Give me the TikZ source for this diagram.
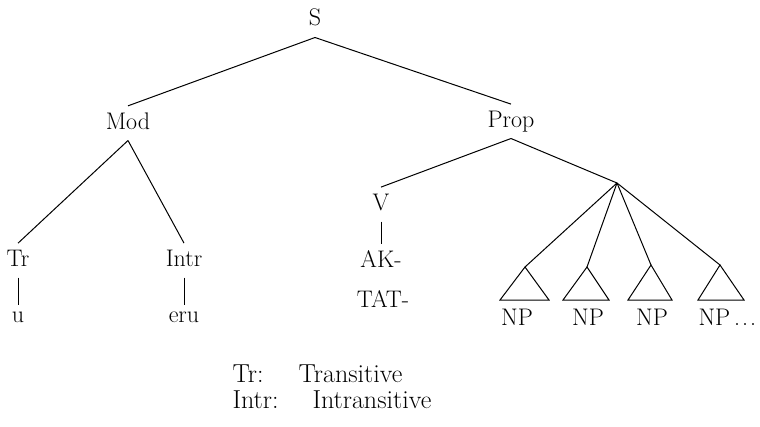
\documentclass[tikz,border=0pt]{standalone}
\usepackage{amsmath}
\usepackage{tikz}

\begin{document}
\begin{tikzpicture}[x=1pt,y=-1pt,
  lab/.style={anchor=base,inner xsep=0pt,inner ysep=6pt,text depth=5pt,font=\fontsize{24}{28}\selectfont},
  key/.style={anchor=base west,inner sep=0pt,font=\fontsize{26}{30}\selectfont},
  line width=1pt]
\useasboundingbox (0,0) rectangle (760,426);

% top of the tree
\path (315,25) node (s) [lab,inner ysep=7pt] {S};
\path (128,129) node (mod) [lab] {Mod};
\path (511,127) node (prop) [lab] {Prop};

\draw (s.south) -- (mod.north);
\draw (s.south) -- (prop.north);

% Mod branch
\path (18,266) node (tr) [lab] {Tr};
\path (184,266) node (intr) [lab] {Intr};
\path (18,322) node (u) [lab] {u};
\path (184,322) node (eru) [lab] {eru};

\draw (mod.south) -- (tr.north);
\draw (mod.south) -- (intr.north);
\draw (tr.south) -- (u.north);
\draw (intr.south) -- (eru.north);

% Prop branch
\path (381,210) node (v) [lab] {V};
\path (381,267) node (ak) [lab] {AK-};
\path (383,307) node (tat) [lab] {TAT-};
\coordinate (args) at (617,183);

\draw (prop.south) -- (v.north);
\draw (prop.south) -- (args);
\draw (v.south) -- (ak.north);

% argument triangles
\coordinate (t1) at (525,267);
\coordinate (t2) at (587,267);
\coordinate (t3) at (651,265);
\coordinate (t4) at (720,265);
\draw (t1) -- ++(-25,33) -- ++(49,0) -- cycle;
\draw (t2) -- ++(-24,33) -- ++(46,0) -- cycle;
\draw (t3) -- ++(-23,35) -- ++(44,0) -- cycle;
\draw (t4) -- ++(-22,35) -- ++(46,0) -- cycle;
\draw (args) -- (t1);
\draw (args) -- (t2);
\draw (args) -- (t3);
\draw (args) -- (t4);

\path (517,325) node (np1) [lab] {NP};
\path (588,325) node (np2) [lab] {NP};
\path (652,325) node (np3) [lab] {NP};
\path (698,325) node (np4) [lab,anchor=base west] {NP\,.\kern2pt.\kern2pt.};

% abbreviations
\path (232,382) node (ktr) [key] {Tr:};
\path (298,382) node (ktrx) [key] {Transitive};
\path (232,408) node (kintr) [key] {Intr:};
\path (312,408) node (kintrx) [key] {Intransitive};
\end{tikzpicture}
\end{document}
